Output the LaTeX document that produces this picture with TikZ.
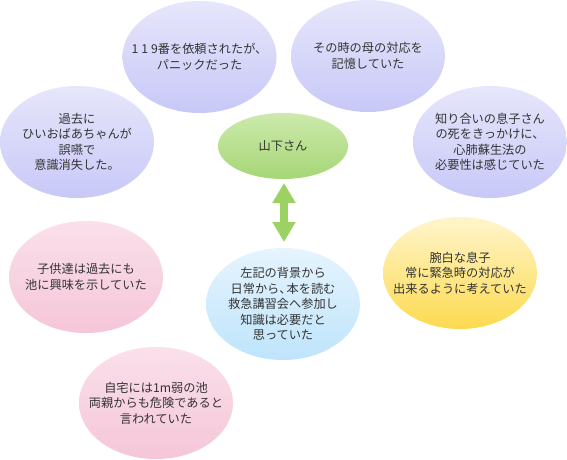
\documentclass[tikz,border=0pt]{standalone}
\usepackage{fontspec}
\newfontfamily\jp{Noto Sans CJK JP}
\usetikzlibrary{arrows.meta,shapes.geometric}
\definecolor{txt}{HTML}{333333}
\definecolor{puT}{HTML}{E6E6FB}\definecolor{puB}{HTML}{C8C8F8}
\definecolor{grT}{HTML}{CCEAAC}\definecolor{grB}{HTML}{A6D676}
\definecolor{piT}{HTML}{FAE0EA}\definecolor{piB}{HTML}{F5C6D8}
\definecolor{blT}{HTML}{E6F4FD}\definecolor{blB}{HTML}{BEE4FC}
\definecolor{yeT}{HTML}{FFF5CC}\definecolor{yeB}{HTML}{FCDA4E}
\definecolor{arr}{HTML}{9CD264}
\tikzset{
  txtlab/.style={align=center, text=txt, inner sep=0pt, font=\jp\fontsize{12.2}{15.5}\selectfont},
  bub/.style={ellipse, minimum width=154pt, minimum height=112pt, inner sep=0pt},
  purple/.style={bub, top color=puT, bottom color=puB},
  pink/.style={bub, top color=piT, bottom color=piB},
  blue/.style={bub, top color=blT, bottom color=blB},
  yellow/.style={bub, top color=yeT, bottom color=yeB},
  green/.style={bub, minimum width=130pt, minimum height=66pt, top color=grT, bottom color=grB},
}
\begin{document}
\begin{tikzpicture}[x=1pt,y=-1pt]
\useasboundingbox (0,0) rectangle (567,459);
\node[purple, label={[txtlab]center:{1\hspace{3pt}1\hspace{3pt}9番を依頼されたが、\\パニックだった}}] (a) at (199.5,57) {};
\node[purple, label={[txtlab]center:{その時の母の対応を\\記憶していた}}] (b) at (368,56) {};
\node[purple, label={[txtlab]center:{過去に\\ひいおばあちゃんが\\誤嚥で\\意識消失した。}}] (c) at (77,142) {};
\node[green, label={[txtlab]center:{山下さん}}] (y) at (283,146) {};
\node[purple, label={[txtlab]center:{知り合いの息子さん\\の死をきっかけに、\\心肺蘇生法の\\必要性は感じていた}}] (d) at (490,142) {};
\node[pink, label={[txtlab]center:{子供達は過去にも\\池に興味を示していた}}] (e) at (86,277) {};
\node[blue, label={[txtlab]center:{左記の背景から\\日常から、\hspace{-5pt}本を読む\\救急講習会へ参加し\\知識は必要だと\\思っていた}}] (f) at (283,304) {};
\node[yellow, label={[txtlab]center:{腕白な息子\\常に緊急時の対応が\\出来るように考えていた}}] (g) at (460,273) {};
\node[pink, label={[txtlab]center:{自宅には1m弱の池\\両親からも危険であると\\言われていた}}] (h) at (156,403) {};
\coordinate (t) at (284,183);
\coordinate (s) at (284,242);
\draw[arr, line width=8pt, {Triangle[length=20pt,width=22pt]}-{Triangle[length=20pt,width=22pt]}] (t) -- (s);
\end{tikzpicture}
\end{document}
